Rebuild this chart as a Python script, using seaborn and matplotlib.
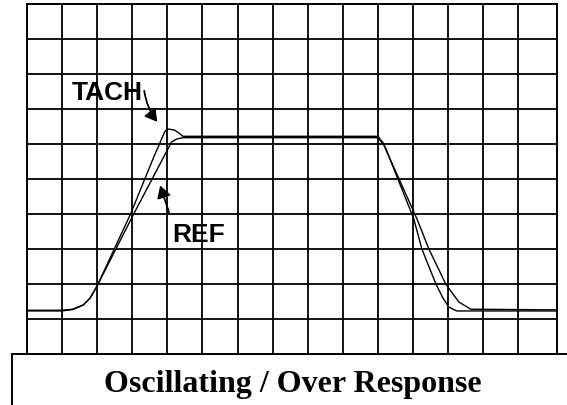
import numpy as np
import pandas as pd
import matplotlib
matplotlib.use("Agg")
import matplotlib.pyplot as plt
from matplotlib.lines import Line2D
import seaborn as sns

# ---- data (grid units: x = divisions, y = divisions) ----
tach_t = [0.0, 1.0, 1.3, 1.6, 1.8, 2.0, 2.95, 3.6, 3.92, 4.0, 4.2, 4.36, 4.44,
          10.0, 10.17, 11.02, 11.25, 11.65, 11.85, 12.02, 12.24, 15.1]
tach_v = [1.23, 1.23, 1.27, 1.4, 1.6, 1.95, 4.0, 5.6, 6.34, 6.43, 6.4, 6.29, 6.22,
          6.22, 6.0, 3.86, 3.0, 2.0, 1.6, 1.34, 1.23, 1.23]

ref_t = [0.0, 1.0, 1.3, 1.6, 1.8, 2.0, 3.04, 4.12, 4.26, 4.44,
         10.0, 10.17, 11.11, 11.45, 11.93, 12.3, 12.64, 15.1]
ref_v = [1.25, 1.25, 1.28, 1.4, 1.6, 1.95, 4.0, 6.06, 6.14, 6.18,
         6.18, 5.96, 3.86, 3.0, 2.0, 1.49, 1.28, 1.26]

labels = ["TACH", "REF"]
caption = "Oscillating / Over Response"

x_grid = list(range(0, 15))
y_grid = list(range(0, 11))

# ---- figure ----
sns.set_theme(style="white")
W, H = 567, 406
fig = plt.figure(figsize=(W / 100, H / 100), dpi=100)
fig.patch.set_facecolor("white")

ax = fig.add_axes([27 / W, (H - 355) / H, (557 - 27) / W, (355 - 5) / H])
ax.set_facecolor("white")

tach_df = pd.DataFrame({"t": tach_t, "v": tach_v})
ref_df = pd.DataFrame({"t": ref_t, "v": ref_v})
sns.lineplot(data=tach_df, x="t", y="v", sort=False, estimator=None,
             color="black", lw=1.0, ax=ax)
sns.lineplot(data=ref_df, x="t", y="v", sort=False, estimator=None,
             color="black", lw=1.0, ax=ax)

ax.set_xlim(0, 15.1)
ax.set_ylim(0, 10)
ax.set_xticks(x_grid)
ax.set_yticks(y_grid)
ax.grid(True, color="black", lw=1.3)
ax.tick_params(left=False, bottom=False, labelleft=False, labelbottom=False)
ax.set_xlabel("")
ax.set_ylabel("")
for s in ax.spines.values():
    s.set_color("black")
    s.set_linewidth(1.4)
    s.set_visible(True)

# labels with arrows
ax.text(1.28, 7.29, labels[0], fontfamily="Liberation Sans", fontweight="bold",
        fontsize=19, ha="left", va="baseline", color="black")
ax.annotate("", xy=(3.76, 6.57), xytext=(3.33, 7.6),
            arrowprops=dict(arrowstyle="-|>,head_length=0.6,head_width=0.35",
                            color="black", lw=1.3,
                            connectionstyle="arc3,rad=0.15"))
ax.text(4.13, 3.23, labels[1], fontfamily="Liberation Sans", fontweight="bold",
        fontsize=19, ha="left", va="baseline", color="black")
ax.annotate("", xy=(3.77, 4.89), xytext=(4.07, 3.97),
            arrowprops=dict(arrowstyle="-|>,head_length=0.6,head_width=0.35",
                            color="black", lw=1.3))

# caption box
yb = (H - 355) / H
fig.add_artist(Line2D([12 / W, 1.0], [yb, yb], color="black", lw=1.4))
fig.add_artist(Line2D([12 / W, 12 / W], [0, yb], color="black", lw=1.4))
fig.text(293 / W, 1 - 385 / H, caption, fontfamily="Liberation Serif",
         fontweight="bold", fontsize=23, ha="center", va="center", color="black")

fig.savefig("out.png", dpi=100, facecolor="white")
